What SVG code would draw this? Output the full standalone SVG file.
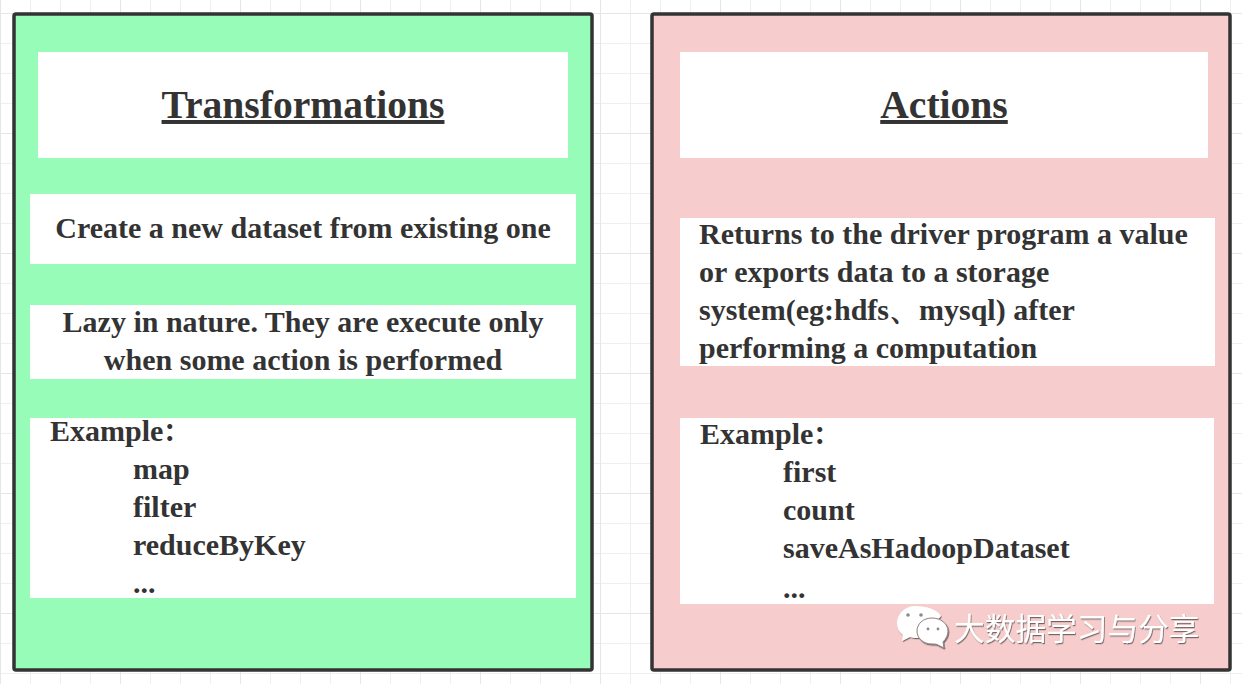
<svg xmlns="http://www.w3.org/2000/svg" width="1242" height="684" viewBox="0 0 1242 684">
<defs>
<pattern id="g" width="30" height="30" patternUnits="userSpaceOnUse" x="0" y="13"><path d="M30 0H0V30" fill="none" stroke="#efefef" stroke-width="2"/></pattern>
<pattern id="G" width="120" height="120" patternUnits="userSpaceOnUse" x="0" y="13"><path d="M120 0H0V120" fill="none" stroke="#e6e6e6" stroke-width="2"/></pattern>
<filter id="sh" x="-5%" y="-5%" width="110%" height="115%"><feDropShadow dx=".8" dy="1.2" stdDeviation=".5" flood-color="#333" flood-opacity=".65"/></filter>
</defs>
<style>
.panel{stroke:#333;stroke-width:3.5}
.box{fill:#fff}
text{font-family:"Liberation Serif","Times New Roman",serif;font-weight:bold;fill:#333;font-size:30px}
.title{font-size:39.6px;text-decoration:underline;text-anchor:middle}
.m{text-anchor:middle}
.c{font-family:"Noto Sans CJK SC",sans-serif;font-size:26px}
.eye{fill:#8a8a8a}
</style>
<rect width="1242" height="684" fill="#fff"/>
<rect width="1242" height="684" fill="url(#g)"/>
<rect width="1242" height="684" fill="url(#G)"/>
<g id="transformations">
<rect class="panel" x="14" y="14" width="578" height="656" rx="2" fill="#96fcb8"/>
<rect class="box" x="38" y="52" width="530" height="106"/>
<text class="title" x="303" y="118">Transformations</text>
<rect class="box" x="30" y="194" width="546" height="70"/>
<text class="m" x="303" y="238">Create a new dataset from existing one</text>
<rect class="box" x="30" y="305" width="546" height="74"/>
<text class="m" x="303" y="332">Lazy in nature. They are execute only</text>
<text class="m" x="303" y="370">when some action is performed</text>
<rect class="box" x="30" y="418" width="546" height="180"/>
<text x="50" y="441">Example<tspan class="c">：</tspan></text>
<text x="133" y="479">map</text>
<text x="133" y="517">filter</text>
<text x="133" y="555">reduceByKey</text>
<text x="133" y="593">...</text>
</g>
<g id="actions">
<rect class="panel" x="652" y="14" width="578" height="656" rx="2" fill="#f6cccc"/>
<rect class="box" x="680" y="52" width="528" height="106"/>
<text class="title" x="944" y="118">Actions</text>
<rect class="box" x="680" y="218" width="535" height="148"/>
<text x="699" y="244">Returns to the driver program a value</text>
<text x="699" y="282">or exports data to a storage</text>
<text x="699" y="320">system(eg:hdfs、mysql) after</text>
<text x="699" y="358">performing a computation</text>
<rect class="box" x="680" y="418" width="534" height="186"/>
<text x="700" y="444">Example<tspan class="c">：</tspan></text>
<text x="783" y="482">first</text>
<text x="783" y="520">count</text>
<text x="783" y="558">saveAsHadoopDataset</text>
<text x="783" y="598">...</text>
</g>
<g id="connectors"/>
<g id="watermark" filter="url(#sh)">
<path d="M915 606c-10 0-18 8-18 17 0 5 2 9 6 12l-1 6 8-4c3 1 6 1 9 1 7 0 18-18 22-22-3-6-14-10-26-10z" fill="#fff"/>
<path d="M932 618c-9 0-15 6-15 13s6 13 15 13c3 0 5 0 6 1l6 3-1-6c3-3 5-7 5-11 0-7-7-13-16-13z" fill="#fff" stroke="#8f8080" stroke-width="1"/>
<circle class="eye" cx="908" cy="615" r="1.8"/><circle class="eye" cx="921" cy="615" r="1.8"/>
<circle class="eye" cx="928" cy="629" r="1.4"/><circle class="eye" cx="938" cy="629" r="1.4"/>
<text x="954" y="640" style="font-family:'Noto Sans CJK SC',sans-serif;font-weight:normal;font-size:30.7px;fill:#fff">大数据学习与分享</text>
</g>
</svg>
